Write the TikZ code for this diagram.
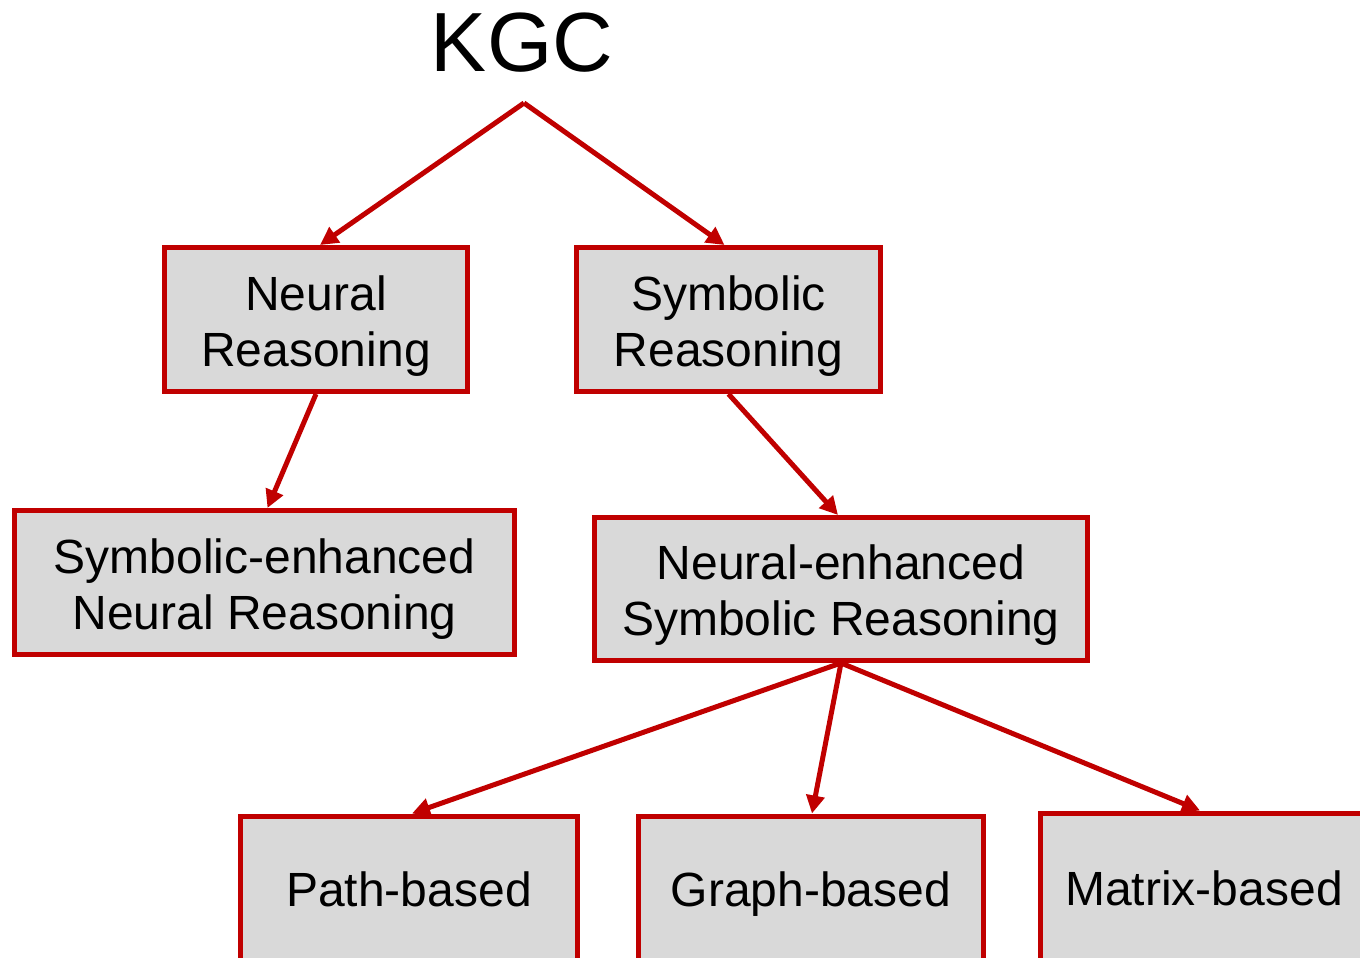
\documentclass[tikz,border=0pt]{standalone}
\usepackage{fontspec}
\setmainfont{Liberation Sans}
\usetikzlibrary{arrows.meta}
\definecolor{kgred}{HTML}{C00000}
\definecolor{kggray}{HTML}{D9D9D9}
\tikzset{
  box/.style={draw=kgred, fill=kggray, line width=5pt, inner sep=0pt, align=center,
    font=\fontsize{48}{56}\selectfont},
  twoline/.style={text height=103pt, text depth=10pt},
  oneline/.style={text height=35pt, text depth=0pt},
  arr/.style={draw=kgred, line width=5pt, -{Triangle[length=18pt,width=18pt]}},
}
\begin{document}
\begin{tikzpicture}[x=1pt,y=-1pt]
\useasboundingbox (0,0) rectangle (1360,958);
\clip (0,0) rectangle (1360,958);
\node[font=\fontsize{84}{94}\selectfont, anchor=base] (kgc) at (522,72) {KGC};
\coordinate (apex) at (524,103);
\node[box, twoline, minimum width=303pt, minimum height=144pt] (nr) at (316,319.5) {Neural\\Reasoning};
\node[box, twoline, minimum width=304pt, minimum height=144pt] (sr) at (728.5,319.5) {Symbolic\\Reasoning};
\node[box, twoline, minimum width=500pt, minimum height=144pt] (sen) at (264.5,582.5) {Symbolic-enhanced\\Neural Reasoning};
\node[box, twoline, minimum width=493pt, minimum height=143pt] (nes) at (841,589) {Neural-enhanced\\Symbolic Reasoning};
\node[box, oneline, minimum width=337pt, minimum height=146pt] (pb) at (409,889) {Path-based};
\node[box, oneline, minimum width=345pt, minimum height=146pt] (gb) at (811,889) {Graph-based};
\node[box, oneline, minimum width=327pt, minimum height=150pt] (mb) at (1204,888) {Matrix-based};
\draw[arr] (apex) -- ([xshift=4pt]nr.north);
\draw[arr] (apex) -- ([xshift=-4pt]sr.north);
\draw[arr] (nr.south) -- ([xshift=3pt]sen.north);
\draw[arr] (sr.south) -- ([xshift=-3pt]nes.north);
\draw[arr] (nes.south) -- ([xshift=3pt]pb.north);
\draw[arr] (nes.south) -- ([xshift=1pt]gb.north);
\draw[arr] (nes.south) -- ([xshift=-4pt]mb.north);
\end{tikzpicture}
\end{document}
